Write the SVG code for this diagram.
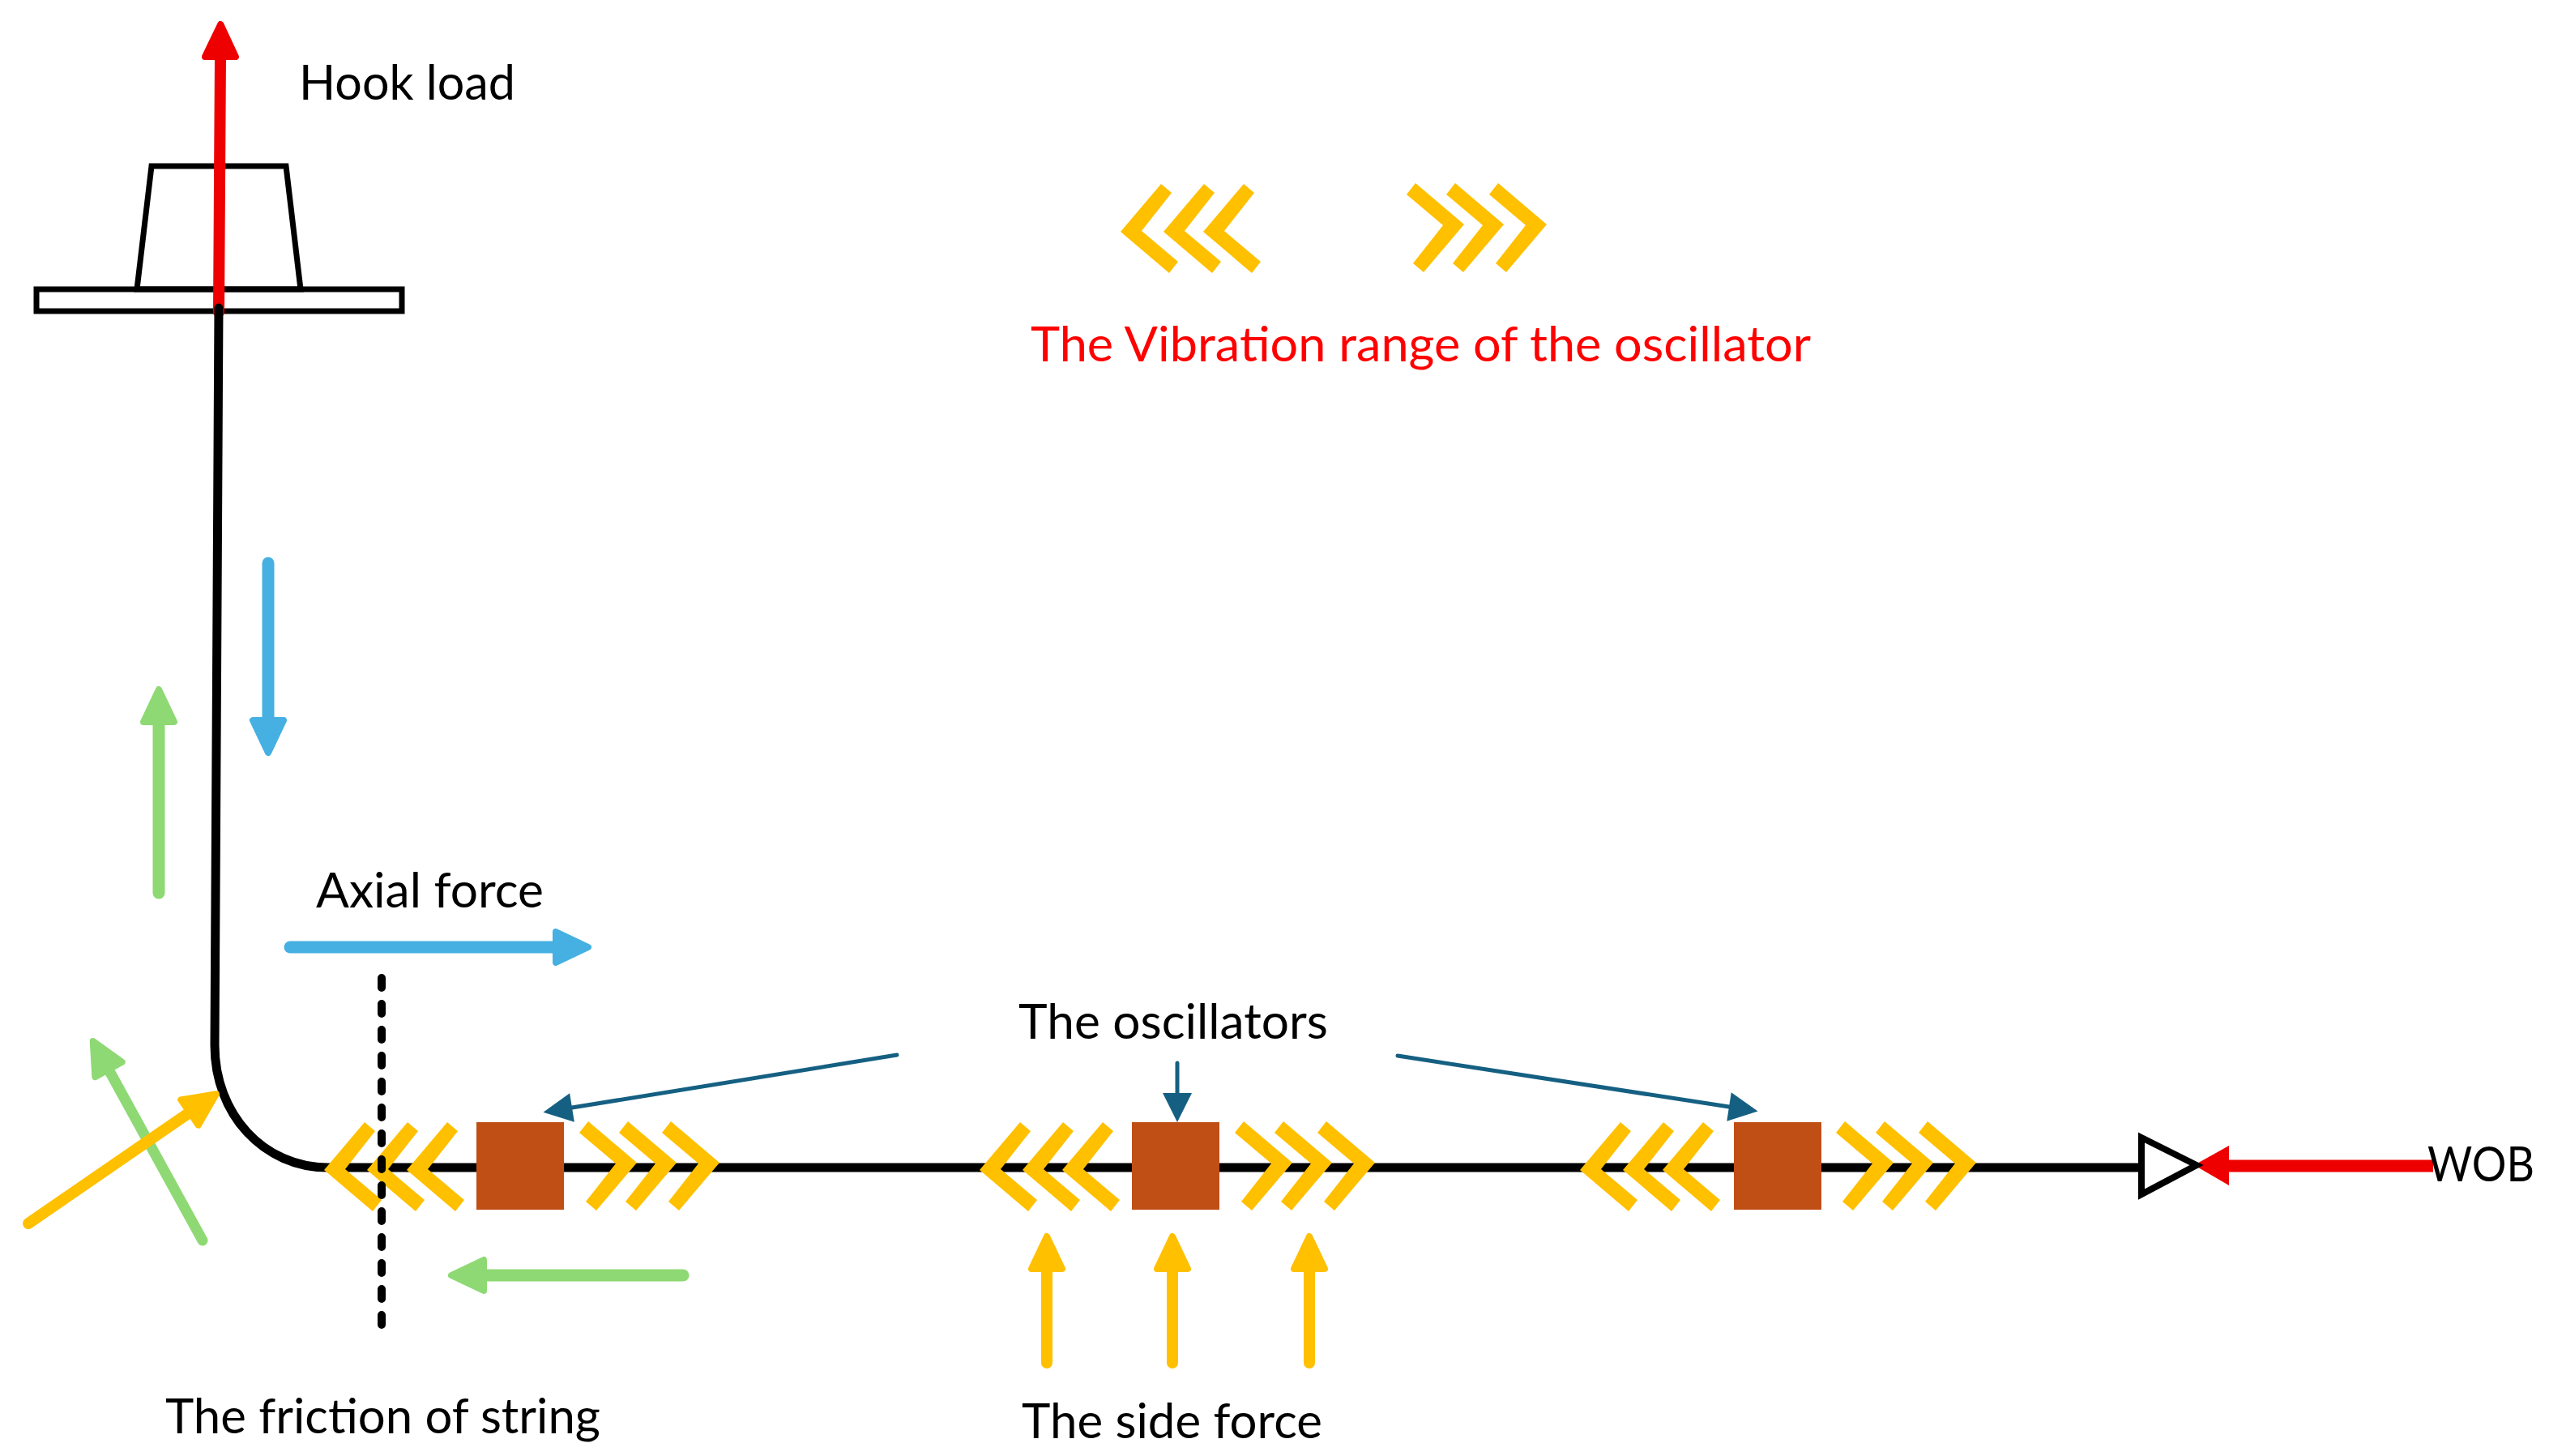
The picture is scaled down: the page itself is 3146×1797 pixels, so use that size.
<svg xmlns="http://www.w3.org/2000/svg" xmlns:xlink="http://www.w3.org/1999/xlink" width="3146" height="1797" viewBox="0 0 3146 1797">
<style>
text{font-family:"Lato","Liberation Sans",sans-serif;font-size:60px;fill:#000}
.red{fill:#f00}
.thin{fill:none;stroke:#000;stroke-width:7}
.ln{fill:none;stroke-linecap:round}
.r{stroke:#e00;stroke-width:14;marker-end:url(#mr)}
.b{stroke:#45b0e1;stroke-width:15;marker-end:url(#mb)}
.g{stroke:#8ed973;stroke-width:15;marker-end:url(#mg)}
.o{stroke:#ffc000;stroke-width:14;marker-end:url(#mo)}
.d{stroke:#156082;stroke-width:5;marker-end:url(#md)}
.osc{fill:#c04f15}
.chev{fill:#ffc000}
</style>
<defs>
<marker id="mr" markerUnits="userSpaceOnUse" markerWidth="1" markerHeight="1" refX="0" refY="0" orient="auto" overflow="visible"><polygon points="0,-19 40,0 0,19" fill="#e00" stroke="#e00" stroke-width="8" stroke-linejoin="round"/></marker>
<marker id="mb" markerUnits="userSpaceOnUse" markerWidth="1" markerHeight="1" refX="0" refY="0" orient="auto" overflow="visible"><polygon points="0,-19 40,0 0,19" fill="#45b0e1" stroke="#45b0e1" stroke-width="8" stroke-linejoin="round"/></marker>
<marker id="mg" markerUnits="userSpaceOnUse" markerWidth="1" markerHeight="1" refX="0" refY="0" orient="auto" overflow="visible"><polygon points="0,-19 40,0 0,19" fill="#8ed973" stroke="#8ed973" stroke-width="8" stroke-linejoin="round"/></marker>
<marker id="mo" markerUnits="userSpaceOnUse" markerWidth="1" markerHeight="1" refX="0" refY="0" orient="auto" overflow="visible"><polygon points="0,-19 40,0 0,19" fill="#ffc000" stroke="#ffc000" stroke-width="8" stroke-linejoin="round"/></marker>
<marker id="md" markerUnits="userSpaceOnUse" markerWidth="1" markerHeight="1" refX="0" refY="0" orient="auto" overflow="visible"><polygon points="0,-18 36,0 0,18" fill="#156082"/></marker>
<polygon id="c" points="0,0 50,-59 63,-48 26,-1 71,37 60,51"/>
<g id="cl"><use xlink:href="#c"/><use xlink:href="#c" x="53"/><use xlink:href="#c" x="102"/></g>
<g id="cr" transform="rotate(180)"><use xlink:href="#c"/><use xlink:href="#c" x="53"/><use xlink:href="#c" x="102"/></g>
</defs>
<rect width="3146" height="1797" fill="#fff"/>
<g id="hook">
<polygon class="thin" points="169,357 187,205 353,205 371,357"/>
<rect class="thin" x="45" y="357" width="451" height="27" fill="#fff"/>
</g>
<g id="connectors">
<path class="ln r" d="M270,385 L272,70"/>
<path d="M270,380 L265,1290 C265,1375 325,1441 405,1441 L2645,1441" fill="none" stroke="#000" stroke-width="11" stroke-linecap="round"/>
<path class="ln b" d="M331,695 V889"/>
<path class="ln b" d="M358,1169 H686"/>
<path class="ln g" d="M196,1102 V891"/>
<path class="ln g" style="stroke-width:13" d="M250,1531 L134,1320"/>
<path class="ln g" d="M843,1574 H597"/>
<path class="ln o" d="M35,1510 L234,1373"/>
<path class="ln o" d="M1292,1682 V1566"/>
<path class="ln o" d="M1447,1682 V1566"/>
<path class="ln o" d="M1616,1682 V1566"/>
<path class="ln d" d="M1107,1302 L706,1367"/>
<path class="ln d" d="M1453,1312 V1349"/>
<path class="ln d" d="M1725,1303 L2134,1366"/>
<path d="M3003,1439 H2751" fill="none" stroke="#e00" stroke-width="15"/>
<polygon points="2708,1438 2751,1414 2751,1463" fill="#e00"/>
</g>
<g id="triangle"><polygon points="2643,1404 2711,1438 2643,1474" fill="#fff" stroke="#000" stroke-width="8"/></g>
<g id="legend-left" class="chev"><use xlink:href="#cl" x="1383" y="286"/></g>
<g id="legend-right" class="chev" transform="translate(1909,277)"><use xlink:href="#cr"/></g>
<g id="oscillator-1">
<rect class="osc" x="588" y="1385" width="108" height="108"/>
<g class="chev"><use xlink:href="#cl" x="400" y="1444"/></g>
<g class="chev" transform="translate(888,1435)"><use xlink:href="#cr"/></g>
</g>
<g id="oscillator-2">
<rect class="osc" x="1397" y="1385" width="108" height="108"/>
<g class="chev"><use xlink:href="#cl" x="1209" y="1444"/></g>
<g class="chev" transform="translate(1697,1435)"><use xlink:href="#cr"/></g>
</g>
<g id="oscillator-3">
<rect class="osc" x="2140" y="1385" width="108" height="108"/>
<g class="chev"><use xlink:href="#cl" x="1950" y="1444"/></g>
<g class="chev" transform="translate(2439,1435)"><use xlink:href="#cr"/></g>
</g>
<g id="section"><line x1="471" y1="1207" x2="471" y2="1640" stroke="#000" stroke-width="10" stroke-linecap="round" stroke-dasharray="12 20"/></g>
<g id="labels">
<text x="369" y="123" textLength="267" lengthAdjust="spacingAndGlyphs">Hook load</text>
<text class="red" x="1272" y="446" textLength="963" lengthAdjust="spacingAndGlyphs">The Vibration range of the oscillator</text>
<text x="390" y="1120" textLength="281" lengthAdjust="spacingAndGlyphs">Axial force</text>
<text x="1257" y="1282" textLength="382" lengthAdjust="spacingAndGlyphs">The oscillators</text>
<text x="2996" y="1458" textLength="132" lengthAdjust="spacingAndGlyphs">WOB</text>
<text x="204" y="1769" textLength="537" lengthAdjust="spacingAndGlyphs">The friction of string</text>
<text x="1261" y="1775" textLength="371" lengthAdjust="spacingAndGlyphs">The side force</text>
</g>
</svg>
